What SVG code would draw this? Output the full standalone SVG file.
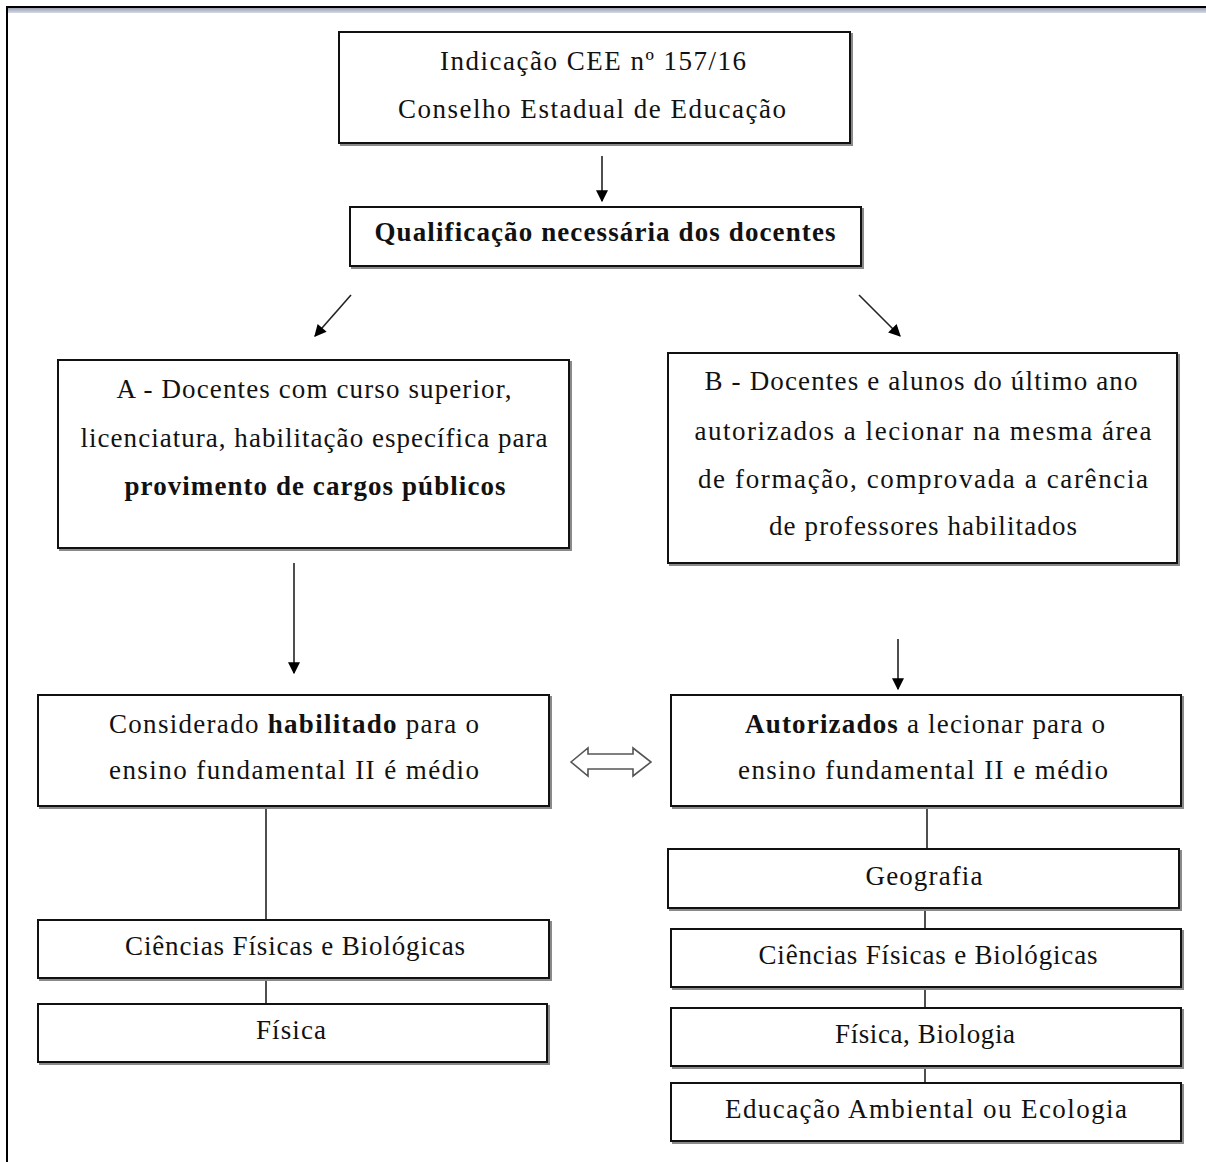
<svg xmlns="http://www.w3.org/2000/svg" width="1206" height="1162" viewBox="0 0 1206 1162">
<defs>
<style>
.box{fill:#fff;stroke:#111;stroke-width:2}
.sh{fill:none;stroke:#8a8a8a;stroke-width:2}
.t{font-family:"Liberation Serif","Times New Roman",serif;font-size:27px;fill:#111;text-anchor:middle}
.b{font-weight:bold}
.ln{stroke:#222;stroke-width:1.6;fill:none}
</style>
<marker id="ah2" viewBox="0 0 10 10" refX="9" refY="5" markerWidth="15" markerHeight="12" markerUnits="userSpaceOnUse" orient="auto">
<path d="M0,0 L10,5 L0,10 z" fill="#000"/>
</marker>
<linearGradient id="tb" x1="0" y1="0" x2="0" y2="1">
<stop offset="0" stop-color="#9aa2b4"/>
<stop offset="1" stop-color="#d6dae2"/>
</linearGradient>
</defs>
<rect width="1206" height="1162" fill="#fff"/>
<g id="frame">
<rect x="7" y="8" width="1199" height="5" fill="url(#tb)"/>
<line x1="6" y1="7" x2="1206" y2="7" stroke="#000" stroke-width="2"/>
<line x1="7" y1="6" x2="7" y2="1162" stroke="#000" stroke-width="2"/>
</g>
<g id="connectors">
<line class="ln" x1="602" y1="156" x2="602" y2="201" marker-end="url(#ah2)"/>
<line class="ln" x1="351" y1="295" x2="315" y2="336" marker-end="url(#ah2)"/>
<line class="ln" x1="859" y1="295" x2="900" y2="336" marker-end="url(#ah2)"/>
<line class="ln" x1="294" y1="563" x2="294" y2="673" marker-end="url(#ah2)"/>
<line class="ln" x1="898" y1="639" x2="898" y2="689" marker-end="url(#ah2)"/>
<line class="ln" x1="266" y1="807" x2="266" y2="920"/>
<line class="ln" x1="266" y1="978" x2="266" y2="1004"/>
<line class="ln" x1="927" y1="806" x2="927" y2="850"/>
<line class="ln" x1="925" y1="908" x2="925" y2="929"/>
<line class="ln" x1="925" y1="987" x2="925" y2="1008"/>
<line class="ln" x1="925" y1="1066" x2="925" y2="1083"/>
<polygon id="double-arrow" points="571,762 588,748 588,754 633,754 633,748 651,762 633,776 633,769 588,769 588,776" fill="#fff" stroke="#555" stroke-width="1.6"/>
</g>
<g id="n-indicacao">
<rect class="sh" x="341" y="34" width="511" height="111"/>
<rect class="box" x="339" y="32" width="511" height="111"/>
<text class="t" x="593" y="70" textLength="306" lengthAdjust="spacing">Indicação CEE nº 157/16</text>
<text class="t" x="592" y="118" textLength="388" lengthAdjust="spacing">Conselho Estadual de Educação</text>
</g>
<g id="n-qualificacao">
<rect class="sh" x="352" y="209" width="511" height="59"/>
<rect class="box" x="350" y="207" width="511" height="59"/>
<text class="t b" x="605" y="241" textLength="461" lengthAdjust="spacing">Qualificação necessária dos docentes</text>
</g>
<g id="n-a">
<rect class="sh" x="60" y="362" width="511" height="188"/>
<rect class="box" x="58" y="360" width="511" height="188"/>
<text class="t" x="314" y="398" textLength="395" lengthAdjust="spacing">A - Docentes com curso superior,</text>
<text class="t" x="314" y="447" textLength="467" lengthAdjust="spacing">licenciatura, habilitação específica para</text>
<text class="t b" x="315" y="495" textLength="381" lengthAdjust="spacing">provimento de cargos públicos</text>
</g>
<g id="n-b">
<rect class="sh" x="670" y="355" width="509" height="210"/>
<rect class="box" x="668" y="353" width="509" height="210"/>
<text class="t" x="921" y="390" textLength="433" lengthAdjust="spacing">B - Docentes e alunos do último ano</text>
<text class="t" x="923" y="440" textLength="457" lengthAdjust="spacing">autorizados a lecionar na mesma área</text>
<text class="t" x="923" y="488" textLength="450" lengthAdjust="spacing">de formação, comprovada a carência</text>
<text class="t" x="923" y="535" textLength="308" lengthAdjust="spacing">de professores habilitados</text>
</g>
<g id="n-habilitado">
<rect class="sh" x="40" y="697" width="511" height="111"/>
<rect class="box" x="38" y="695" width="511" height="111"/>
<text class="t" x="294" y="733" textLength="370" lengthAdjust="spacing">Considerado <tspan class="b">habilitado</tspan> para o</text>
<text class="t" x="294" y="779" textLength="370" lengthAdjust="spacing">ensino fundamental II é médio</text>
</g>
<g id="n-autorizados">
<rect class="sh" x="673" y="697" width="510" height="111"/>
<rect class="box" x="671" y="695" width="510" height="111"/>
<text class="t" x="925" y="733" textLength="360" lengthAdjust="spacing"><tspan class="b">Autorizados</tspan> a lecionar para o</text>
<text class="t" x="923" y="779" textLength="370" lengthAdjust="spacing">ensino fundamental II e médio</text>
</g>
<g id="n-ciencias-a">
<rect class="sh" x="40" y="922" width="511" height="58"/>
<rect class="box" x="38" y="920" width="511" height="58"/>
<text class="t" x="295" y="955" textLength="340" lengthAdjust="spacing">Ciências Físicas e Biológicas</text>
</g>
<g id="n-fisica-a">
<rect class="sh" x="40" y="1006" width="509" height="58"/>
<rect class="box" x="38" y="1004" width="509" height="58"/>
<text class="t" x="291" y="1039" textLength="70" lengthAdjust="spacing">Física</text>
</g>
<g id="n-geografia">
<rect class="sh" x="670" y="851" width="511" height="59"/>
<rect class="box" x="668" y="849" width="511" height="59"/>
<text class="t" x="924" y="885" textLength="117" lengthAdjust="spacing">Geografia</text>
</g>
<g id="n-ciencias-b">
<rect class="sh" x="673" y="931" width="510" height="58"/>
<rect class="box" x="671" y="929" width="510" height="58"/>
<text class="t" x="928" y="964" textLength="339" lengthAdjust="spacing">Ciências Físicas e Biológicas</text>
</g>
<g id="n-fisica-b">
<rect class="sh" x="673" y="1010" width="510" height="58"/>
<rect class="box" x="671" y="1008" width="510" height="58"/>
<text class="t" x="925" y="1043" textLength="180" lengthAdjust="spacing">Física, Biologia</text>
</g>
<g id="n-educacao">
<rect class="sh" x="673" y="1085" width="510" height="58"/>
<rect class="box" x="671" y="1083" width="510" height="58"/>
<text class="t" x="926" y="1118" textLength="402" lengthAdjust="spacing">Educação Ambiental ou Ecologia</text>
</g>
</svg>
